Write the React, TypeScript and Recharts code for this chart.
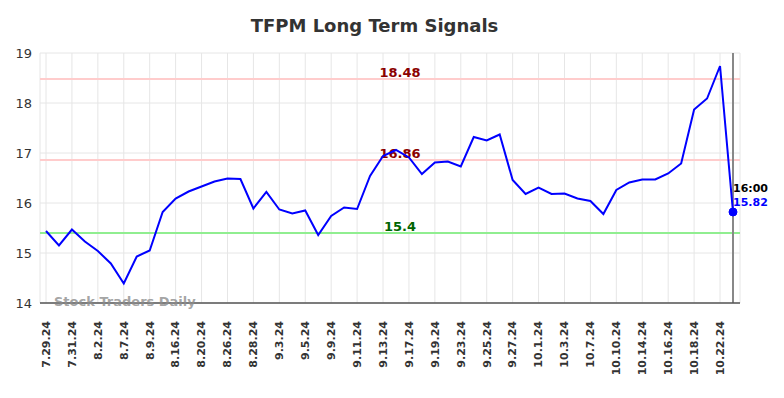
import React from 'react';
import { LineChart, Line, XAxis, YAxis, CartesianGrid, ReferenceLine, ReferenceDot } from 'recharts';

const dates = [
  '7.29.24', '7.30.24', '7.31.24', '8.1.24', '8.2.24', '8.6.24', '8.7.24', '8.8.24', '8.9.24', '8.15.24',
  '8.16.24', '8.19.24', '8.20.24', '8.23.24', '8.26.24', '8.27.24', '8.28.24', '8.30.24', '9.3.24', '9.4.24',
  '9.5.24', '9.6.24', '9.9.24', '9.10.24', '9.11.24', '9.12.24', '9.13.24', '9.16.24', '9.17.24', '9.18.24',
  '9.19.24', '9.20.24', '9.23.24', '9.24.24', '9.25.24', '9.26.24', '9.27.24', '9.30.24', '10.1.24', '10.2.24',
  '10.3.24', '10.4.24', '10.7.24', '10.9.24', '10.10.24', '10.11.24', '10.14.24', '10.15.24', '10.16.24', '10.17.24',
  '10.18.24', '10.21.24', '10.22.24', '10.23.24',
];

const prices = [
  15.44, 15.15, 15.47, 15.23, 15.04, 14.79, 14.39, 14.93, 15.05, 15.82,
  16.09, 16.23, 16.33, 16.43, 16.49, 16.48, 15.89, 16.22, 15.87, 15.79,
  15.85, 15.36, 15.74, 15.91, 15.88, 16.54, 16.94, 17.06, 16.91, 16.58,
  16.81, 16.83, 16.73, 17.32, 17.25, 17.37, 16.46, 16.18, 16.31, 16.18,
  16.19, 16.09, 16.04, 15.78, 16.26, 16.41, 16.47, 16.47, 16.59, 16.79,
  17.87, 18.09, 18.74, 15.82,
];

const yTicks = [14, 15, 16, 17, 18, 19];
const resistanceHigh = 18.48;
const resistanceLow = 16.86;
const support = 15.4;
const lastTime = '16:00';

const data = dates.map((d, i) => ({ date: d, price: prices[i] }));
const lastDate = dates[dates.length - 1];
const lastPrice = prices[prices.length - 1];

const FONT = 'DejaVu Sans, sans-serif';
const DOT_R = 4;

const XTick = (props: any) => {
  const { x, y, payload } = props;
  return (
    <text
      x={x}
      y={y}
      transform={`rotate(-90, ${x}, ${y})`}
      textAnchor="end"
      dy="0.35em"
      dx={-10}
      fontSize={11}
      fontWeight="bold"
      fontFamily={FONT}
      fill="#333"
    >
      {payload.value}
    </text>
  );
};

const makeRefLabel = (text: string, color: string) => (props: any) => {
  const vb = props.viewBox || {};
  const cx = (vb.x || 0) + (vb.width || 0) / 2 + 10;
  return (
    <text x={cx} y={(vb.y || 0) - 2} textAnchor="middle" fontSize={13} fontWeight="bold" fontFamily={FONT} fill={color}>
      {text}
    </text>
  );
};

const DotLabel = (props: any) => {
  const vb = props.viewBox || {};
  const cx = vb.cx != null ? vb.cx : (vb.x || 0) + (vb.width != null ? vb.width / 2 : DOT_R);
  const cy = vb.cy != null ? vb.cy : (vb.y || 0) + (vb.height != null ? vb.height / 2 : DOT_R);
  return (
    <g>
      <text x={cx} y={cy - 20} fontSize={11} fontWeight="bold" fontFamily={FONT} fill="#000">
        {lastTime}
      </text>
      <text x={cx} y={cy - 6} fontSize={11} fontWeight="bold" fontFamily={FONT} fill="#0000ff">
        {lastPrice.toFixed(2)}
      </text>
    </g>
  );
};

export default function App() {
  return (
    <div style={{ position: 'absolute', left: 0, top: 0, width: 784, height: 398, background: '#fff' }}>
      <LineChart width={784} height={398} data={data} margin={{ top: 53, right: 44, bottom: 0, left: 0 }}>
        <CartesianGrid stroke="#e6e6e6" strokeWidth={1} />
        <XAxis
          dataKey="date"
          interval={1}
          padding={{ left: 6, right: 7 }}
          height={95}
          tick={<XTick />}
          tickLine={false}
          axisLine={{ stroke: '#555', strokeWidth: 1.5 }}
        />
        <YAxis
          domain={[14, 19]}
          ticks={yTicks}
          width={40}
          axisLine={false}
          tickLine={false}
          tick={{ fontSize: 13, fill: '#333', fontFamily: FONT }}
        />
        <ReferenceLine y={resistanceHigh} stroke="#ffcccc" strokeWidth={2} label={makeRefLabel(resistanceHigh.toFixed(2), '#8b0000')} />
        <ReferenceLine y={resistanceLow} stroke="#ffcccc" strokeWidth={2} label={makeRefLabel(resistanceLow.toFixed(2), '#8b0000')} />
        <ReferenceLine y={support} stroke="#90ee90" strokeWidth={2} label={makeRefLabel(String(support), '#006400')} />
        <ReferenceLine x={lastDate} stroke="#888" strokeWidth={2} />
        <Line
          type="linear"
          dataKey="price"
          stroke="#0000ff"
          strokeWidth={2}
          dot={false}
          isAnimationActive={false}
        />
        <ReferenceDot x={lastDate} y={lastPrice} r={DOT_R} fill="#0000ff" stroke="#0000ff" label={<DotLabel />} />
      </LineChart>
      <div
        style={{
          position: 'absolute', left: 0, top: 15, width: 749, textAlign: 'center',
          fontFamily: FONT, fontWeight: 'bold', fontSize: 18, color: '#333', lineHeight: '22px',
        }}
      >
        TFPM Long Term Signals
      </div>
      <div
        style={{
          position: 'absolute', left: 54, top: 294, fontFamily: FONT, fontWeight: 'bold', fontSize: 13,
          color: 'rgba(140,140,140,0.8)', lineHeight: '16px', whiteSpace: 'nowrap',
        }}
      >
        Stock Traders Daily
      </div>
    </div>
  );
}
